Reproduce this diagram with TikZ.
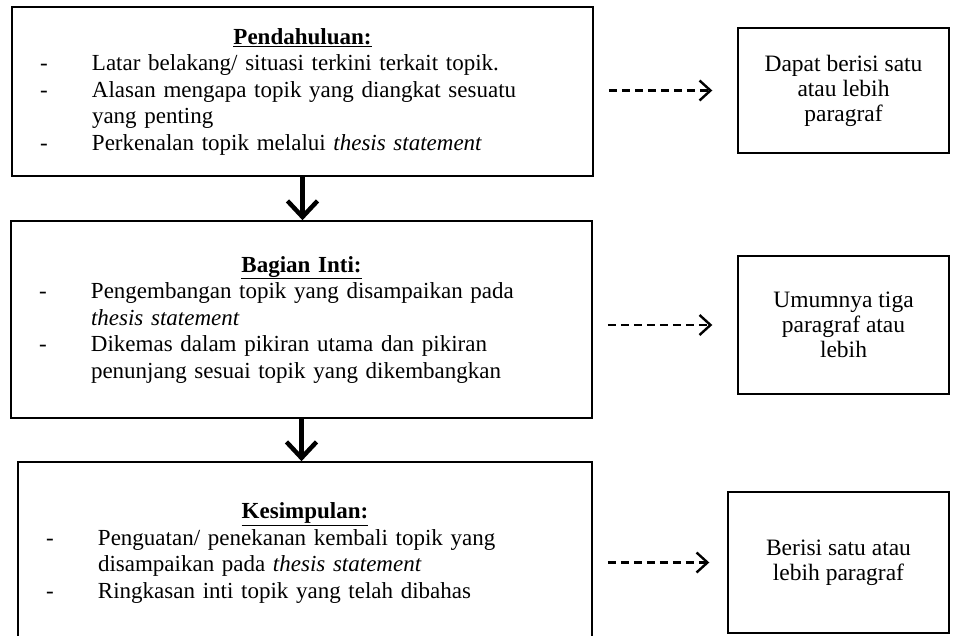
\documentclass[tikz,border=0pt]{standalone}
\usepackage{fontspec}
\setmainfont{Liberation Serif}
\usetikzlibrary{arrows.meta,positioning}

\newcommand\judul[1]{\makebox[\hsize]{\underline{\textbf{#1}}}}
\newcommand\butir[1]{\makebox[52pt][l]{-}#1}
\newcommand\lanjut[1]{\hspace*{52pt}#1}

\tikzset{
  kotak/.style={draw, line width=1.6pt, inner xsep=28pt, align=left,
    font=\fontsize{23}{26.5}\selectfont},
  kotakkanan/.style={draw, line width=1.4pt, align=center,
    font=\fontsize{23.5}{25}\selectfont, minimum width=211pt, minimum height=125pt},
  panah/.style={line width=4.5pt, -{Straight Barb[length=16pt,width=30pt]}},
  panahputus/.style={line width=2.4pt, dash pattern=on 8pt off 5pt,
    -{Straight Barb[length=11pt,width=20pt]}, shorten <=15pt}
}

\begin{document}
\begin{tikzpicture}[x=1pt,y=-1pt]

\useasboundingbox (0,0) rectangle (953,635);

% kotak utama
\node[kotak, text width=525pt, minimum height=169pt] (pendahuluan) at (302.5,91.5) {%
  \judul{Pendahuluan:}\\
  \butir{Latar belakang/ situasi terkini terkait topik.}\\
  \butir{Alasan mengapa topik yang diangkat sesuatu}\\
  \lanjut{yang penting}\\
  \butir{Perkenalan topik melalui \textit{thesis statement}}};

\node[kotak, text width=525pt, minimum height=197pt] (inti) at (301.5,319.5) {%
  \judul{Bagian Inti:}\\
  \butir{Pengembangan topik yang disampaikan pada}\\
  \lanjut{\textit{thesis statement}}\\
  \butir{Dikemas dalam pikiran utama dan pikiran}\\
  \lanjut{penunjang sesuai topik yang dikembangkan}};

\node[kotak, text width=518pt, minimum height=182pt] (kesimpulan) at (305,553) {%
  \judul{Kesimpulan:}\\
  \butir{Penguatan/ penekanan kembali topik yang}\\
  \lanjut{disampaikan pada \textit{thesis statement}}\\
  \butir{Ringkasan inti topik yang telah dibahas}};

% kotak keterangan
\node[kotakkanan] (infoa) at (843.5,90.5) {Dapat berisi satu\\atau lebih\\paragraf};
\node[kotakkanan, minimum height=138pt] (infob) at (843.5,325) {Umumnya tiga\\paragraf atau\\lebih};
\node[kotakkanan, minimum width=221pt, minimum height=141pt] (infoc) at (838.5,562.5) {Berisi satu atau\\lebih paragraf};

% panah
\draw[panah] (pendahuluan.south) -- (pendahuluan.south |- inti.north);
\draw[panah] (inti.south) -- (inti.south |- kesimpulan.north);

\draw[panahputus, shorten >=25pt] (pendahuluan.east |- infoa) -- (infoa.west);
\draw[panahputus, shorten >=25pt] (inti.east |- infob) -- (infob.west);
\draw[panahputus, shorten >=18pt] (kesimpulan.east |- infoc) -- (infoc.west);

\end{tikzpicture}
\end{document}
